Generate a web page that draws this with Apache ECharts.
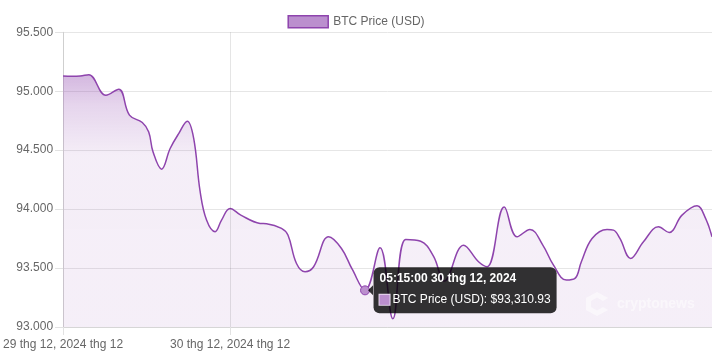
<!DOCTYPE html>
<html>
<head>
<meta charset="utf-8">
<script src="https://cdn.jsdelivr.net/npm/echarts@6/dist/echarts.min.js"></script>
<style>
  html, body { margin: 0; padding: 0; background: #fff; }
  #chart { width: 712px; height: 356px; }
</style>
</head>
<body>
<div id="chart"></div>
<script>
// ---- data ----
const seriesName = 'BTC Price (USD)';
const times = [
  '2024-12-29 17:30', '2024-12-29 17:50', '2024-12-29 18:10', '2024-12-29 18:30',
  '2024-12-29 19:10', '2024-12-29 19:40', '2024-12-29 20:05', '2024-12-29 20:35',
  '2024-12-29 20:50', '2024-12-29 21:00', '2024-12-29 21:20', '2024-12-29 21:40',
  '2024-12-29 22:00', '2024-12-29 22:20', '2024-12-29 22:35', '2024-12-29 22:50',
  '2024-12-29 23:05', '2024-12-29 23:25', '2024-12-29 23:40', '2024-12-30 00:00',
  '2024-12-30 00:25', '2024-12-30 01:10', '2024-12-30 01:25', '2024-12-30 02:00',
  '2024-12-30 02:15', '2024-12-30 02:35', '2024-12-30 02:55', '2024-12-30 03:15',
  '2024-12-30 03:50', '2024-12-30 04:20', '2024-12-30 04:45', '2024-12-30 05:15',
  '2024-12-30 05:50', '2024-12-30 06:20', '2024-12-30 06:50', '2024-12-30 07:25',
  '2024-12-30 07:55', '2024-12-30 08:20', '2024-12-30 09:05', '2024-12-30 09:40',
  '2024-12-30 10:00', '2024-12-30 10:40', '2024-12-30 11:10', '2024-12-30 11:40',
  '2024-12-30 12:10', '2024-12-30 12:35', '2024-12-30 13:05', '2024-12-30 13:25',
  '2024-12-30 13:40', '2024-12-30 14:05', '2024-12-30 14:40', '2024-12-30 14:55',
  '2024-12-30 15:10', '2024-12-30 15:35', '2024-12-30 16:05', '2024-12-30 16:40',
  '2024-12-30 17:05', '2024-12-30 17:35', '2024-12-30 18:10', '2024-12-30 18:30',
  '2024-12-30 18:45'
];
const prices = [
  95130, 95128, 95130, 95140,
  94966, 95017, 94797, 94735,
  94655, 94486, 94339, 94514,
  94641, 94746, 94600, 94150,
  93907, 93808, 93907, 94006,
  93949, 93879, 93876, 93836,
  93780, 93539, 93469, 93511,
  93765, 93666, 93490, 93310.93,
  93672, 93070, 93743, 93728,
  93600, 93390, 93694, 93553,
  93511, 94017, 93765, 93828,
  93695, 93525, 93398, 93412,
  93553, 93751, 93828, 93822,
  93751, 93582, 93723, 93850,
  93802, 93949, 94028, 93921,
  93765
];
const xTickTimes = ['2024-12-29 17:30', '2024-12-30 00:00'];
const xTickLabels = ['29 thg 12, 2024 thg 12', '30 thg 12, 2024 thg 12'];
const yMin = 93000, yMax = 95500, yStep = 500;
const xStart = '2024-12-29 17:30', xEnd = '2024-12-30 18:45';
const tipTime = '2024-12-30 05:15';
const tipTitle = '05:15:00 30 thg 12, 2024';

// ---- helpers ----
function ts(s) {
  const [d, t] = s.split(' ');
  const [y, m, dd] = d.split('-').map(Number);
  const [hh, mm] = t.split(':').map(Number);
  return Date.UTC(y, m - 1, dd, hh, mm);
}
const tickVals = xTickTimes.map(ts);
const seriesData = times.map((t, i) => [ts(t), prices[i]]);
const tipIdx = times.indexOf(tipTime);
const tipValue = prices[tipIdx];
const tipText = seriesName + ': $' + tipValue.toLocaleString('en-US', {minimumFractionDigits: 2, maximumFractionDigits: 2});

const FONT = '"Liberation Sans", Arial, Helvetica, sans-serif';
const PURPLE = '#8e44ad';

const chart = echarts.init(document.getElementById('chart'), null, {renderer: 'canvas'});
chart.setOption({
  animation: false,
  textStyle: { fontFamily: FONT },
  legend: {
    top: 10, left: 'center',
    data: [seriesName],
    icon: 'rect', itemWidth: 40, itemHeight: 12, itemGap: 10,
    itemStyle: { color: '#bb8fce', borderColor: PURPLE, borderWidth: 1.5 },
    textStyle: { color: '#666', fontSize: 12, fontFamily: FONT }
  },
  grid: { left: 63, right: 0, top: 32.3, bottom: 29, containLabel: false },
  xAxis: {
    type: 'value',
    min: ts(xStart), max: ts(xEnd),
    axisLine: { show: true, lineStyle: { color: '#d6d6d6', width: 1 } },
    axisTick: { show: true, length: 8, customValues: tickVals, lineStyle: { color: '#e2e2e2' } },
    axisLabel: {
      customValues: tickVals,
      color: '#666', fontSize: 12, fontFamily: FONT, margin: 12,
      formatter: function (v) {
        const i = tickVals.indexOf(v);
        return i >= 0 ? xTickLabels[i] : '';
      }
    },
    splitLine: { show: false }
  },
  yAxis: {
    type: 'value', min: yMin, max: yMax, interval: yStep,
    axisLine: { show: true, lineStyle: { color: '#cfcfcf', width: 1 } },
    axisTick: { show: true, length: 8, lineStyle: { color: '#e2e2e2' } },
    axisLabel: {
      color: '#666', fontSize: 12, fontFamily: FONT, margin: 10,
      formatter: function (v) {
        return Math.floor(v / 1000) + '.' + String(v % 1000).padStart(3, '0');
      }
    },
    splitLine: { show: true, lineStyle: { color: '#e6e6e6', width: 1 } }
  },
  graphic: [
    {
      type: 'polygon', silent: true, z: 10,
      shape: { points: [[597,292],[608,298],[603,301],[597,297.5],[591,301],[591,307],[597,310.5],[603,307],[608,310],[597,316],[586,310],[586,298]] },
      style: { fill: 'rgba(255,255,255,0.5)' }
    },
    {
      type: 'text', silent: true, z: 10, x: 617, y: 304,
      style: { text: 'cryptonews', fill: 'rgba(255,255,255,0.5)', font: 'bold 14px ' + FONT, verticalAlign: 'middle' }
    }
  ],
  series: [{
    name: seriesName,
    type: 'line',
    data: seriesData,
    smooth: 0.4,
    showSymbol: false,
    lineStyle: { color: PURPLE, width: 1.5 },
    itemStyle: { color: PURPLE },
    areaStyle: {
      origin: 'start',
      color: new echarts.graphic.LinearGradient(0, 0, 0, 1, [
        { offset: 0, color: 'rgba(142,68,173,0.55)' },
        { offset: 0.12, color: 'rgba(142,68,173,0.32)' },
        { offset: 0.32, color: 'rgba(142,68,173,0.13)' },
        { offset: 1, color: 'rgba(142,68,173,0.12)' }
      ])
    },
    markLine: {
      silent: true, symbol: 'none', label: { show: false },
      lineStyle: { color: 'rgba(0,0,0,0.1)', type: 'solid', width: 1 },
      data: [{ xAxis: tickVals[1] }]
    },
    markPoint: {
      silent: true,
      data: [
        {
          coord: [ts(tipTime), tipValue],
          symbol: 'circle', symbolSize: 9,
          itemStyle: { color: '#bb8fce', borderColor: PURPLE, borderWidth: 1 },
          label: {
            show: true, position: 'right', distance: 3.5,
            backgroundColor: 'rgba(0,0,0,0.8)', borderRadius: 6,
            padding: [1, 6, 3, 6], align: 'left',
            formatter: '{t|' + tipTitle + '}\n{b|}{s|' + tipText + '}',
            rich: {
              t: { color: '#fff', fontWeight: 'bold', fontSize: 12, lineHeight: 21, fontFamily: FONT },
              b: { width: 10, height: 10, backgroundColor: '#bb8fce', borderColor: '#e8d8ee', borderWidth: 1 },
              s: { color: '#fff', fontSize: 12, lineHeight: 21, fontFamily: FONT, padding: [0, 0, 0, 3] }
            }
          }
        },
        {
          coord: [ts(tipTime), tipValue],
          symbol: 'triangle', symbolSize: [10, 5], symbolRotate: 90, symbolOffset: [5.5, 0],
          itemStyle: { color: 'rgba(0,0,0,0.8)' },
          label: { show: false }
        }
      ]
    }
  }]
});
</script>
</body>
</html>
